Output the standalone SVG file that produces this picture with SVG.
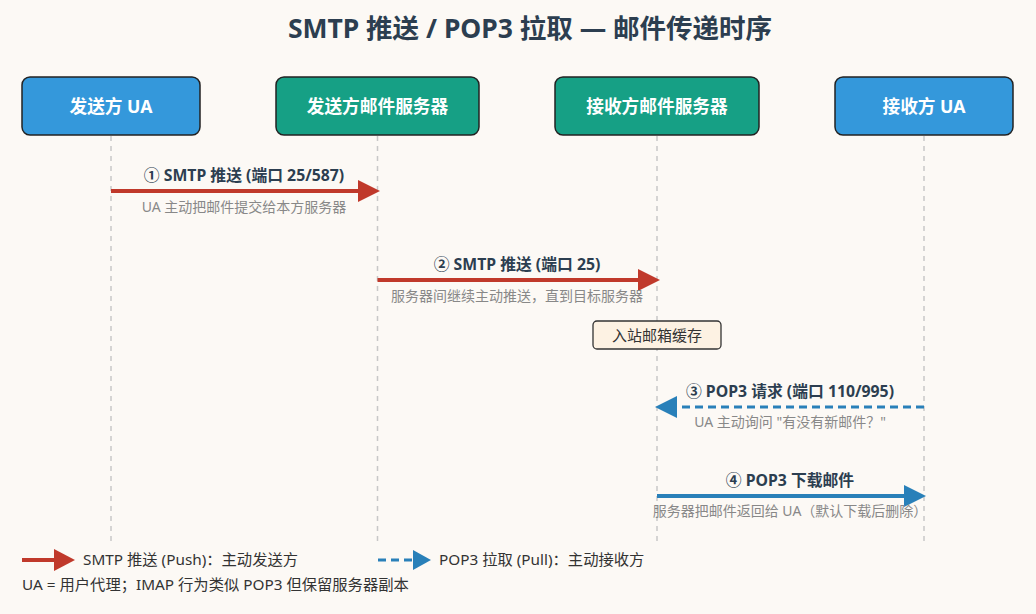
<svg xmlns="http://www.w3.org/2000/svg" width="1036" height="614" viewBox="0 0 1036 614">
<style>
text{font-family:"Noto Sans","Noto Sans CJK SC",sans-serif}
.title{font-size:26.5px;font-weight:bold;fill:#2c3e50}
.node{stroke:#222;stroke-width:1.5}
.ua{fill:#3498db}
.srv{fill:#16a085}
.nt{font-size:17.7px;font-weight:bold;fill:#fff}
.life{stroke:#c8c8c8;stroke-width:1.5;stroke-dasharray:5,5}
.lbl{font-size:15.8px;font-weight:bold;fill:#2c3e50}
.sub{font-size:14px;fill:#888}
.push{stroke:#c0392b;stroke-width:4}
.pull{stroke:#2980b9;stroke-width:3;stroke-dasharray:8,5}
.get{stroke:#2980b9;stroke-width:4}
.leg{font-size:15.3px;fill:#333}
</style>
<rect width="1036" height="614" fill="#fcf9f5"/>
<text class="title" x="530" y="38" text-anchor="middle">SMTP 推送 / POP3 拉取 — 邮件传递时序</text>
<g id="lifelines">
<line class="life" x1="111" y1="136" x2="111" y2="546"/>
<line class="life" x1="377.5" y1="136" x2="377.5" y2="546"/>
<line class="life" x1="657" y1="136" x2="657" y2="546"/>
<line class="life" x1="924" y1="136" x2="924" y2="546"/>
</g>
<g id="node-sender-ua"><rect class="node ua" x="22" y="77" width="178" height="58" rx="8"/><text class="nt" x="111" y="113" text-anchor="middle">发送方 UA</text></g>
<g id="node-sender-srv"><rect class="node srv" x="276" y="77" width="203" height="58" rx="8"/><text class="nt" x="377.5" y="113" text-anchor="middle">发送方邮件服务器</text></g>
<g id="node-recv-srv"><rect class="node srv" x="555" y="77" width="204" height="58" rx="8"/><text class="nt" x="657" y="113" text-anchor="middle">接收方邮件服务器</text></g>
<g id="node-recv-ua"><rect class="node ua" x="835" y="77" width="178" height="58" rx="8"/><text class="nt" x="924" y="113" text-anchor="middle">接收方 UA</text></g>
<g id="node-inbox"><rect x="593" y="321" width="128" height="28" rx="4" fill="#fdf2e3" stroke="#333" stroke-width="1.3"/><text x="657" y="340.5" text-anchor="middle" font-size="15" fill="#333">入站邮箱缓存</text></g>
<g id="connectors">
<line class="push" x1="111" y1="191" x2="360" y2="191"/>
<polygon points="358,180 380,191 358,202" fill="#c0392b"/>
<line class="push" x1="377.5" y1="280" x2="640" y2="280"/>
<polygon points="638,269 660,280 638,291" fill="#c0392b"/>
<line class="pull" x1="924" y1="407" x2="675" y2="407"/>
<polygon points="677,396 655,407 677,418" fill="#2980b9"/>
<line class="get" x1="657" y1="496" x2="906" y2="496"/>
<polygon points="904,485 926,496 904,507" fill="#2980b9"/>
</g>
<g id="labels">
<text class="lbl" x="244" y="181" text-anchor="middle">① SMTP 推送 (端口 25/587)</text>
<text class="sub" x="244" y="212" text-anchor="middle">UA 主动把邮件提交给本方服务器</text>
<text class="lbl" x="517" y="270" text-anchor="middle">② SMTP 推送 (端口 25)</text>
<text class="sub" x="517" y="301" text-anchor="middle">服务器间继续主动推送，直到目标服务器</text>
<text class="lbl" x="790" y="397" text-anchor="middle">③ POP3 请求 (端口 110/995)</text>
<text class="sub" x="790" y="427" text-anchor="middle">UA 主动询问 "有没有新邮件？"</text>
<text class="lbl" x="790" y="486" text-anchor="middle">④ POP3 下载邮件</text>
<text class="sub" x="790" y="516" text-anchor="middle">服务器把邮件返回给 UA（默认下载后删除）</text>
</g>
<g id="legend">
<line class="push" x1="22" y1="560" x2="56" y2="560"/>
<polygon points="54,549 75,560 54,571" fill="#c0392b"/>
<text class="leg" x="83" y="565">SMTP 推送 (Push)：主动发送方</text>
<line class="pull" x1="378" y1="560" x2="412" y2="560"/>
<polygon points="413,550 431,560 413,570" fill="#2980b9"/>
<text class="leg" x="439" y="565">POP3 拉取 (Pull)：主动接收方</text>
<text class="leg" x="22" y="590">UA = 用户代理；IMAP 行为类似 POP3 但保留服务器副本</text>
</g>
</svg>
